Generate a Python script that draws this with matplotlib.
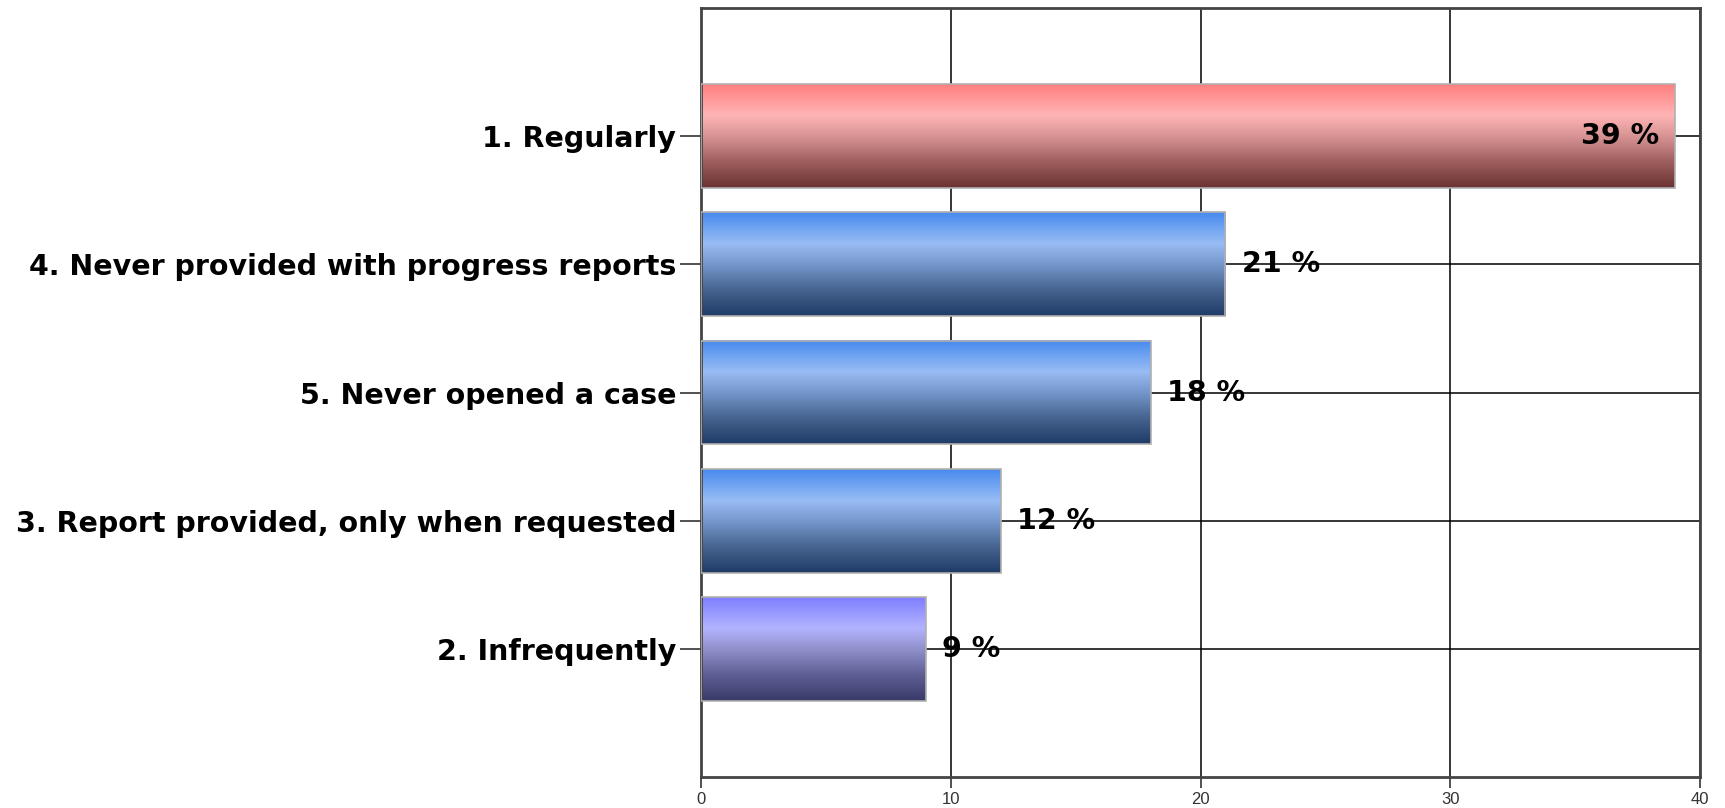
import numpy as np
import matplotlib.pyplot as plt
from matplotlib.colors import LinearSegmentedColormap

# data to plot
categories = ['1. Regularly',
              '4. Never provided with progress reports',
              '5. Never opened a case',
              '3. Report provided, only when requested',
              '2. Infrequently']
values = [39, 21, 18, 12, 9]
schemes = ['red', 'blue', 'blue', 'blue', 'purple']

# gradient stops, top of bar -> bottom
gradients = {
    'red':    ['#FF7F7F', '#FFB4B4', '#D89494', '#9E5E5E', '#6A3232'],
    'blue':   ['#468AEE', '#98BCF4', '#7597CC', '#46648F', '#1F3A66'],
    'purple': ['#7E7EFF', '#B3B3FF', '#9090CC', '#5E5E94', '#3A3A68'],
}
stops = [0.0, 0.3, 0.5, 0.75, 1.0]

plt.rcParams['font.family'] = ['DejaVu Sans']

fig = plt.figure(figsize=(17.25, 8.08), dpi=100)
ax = fig.add_axes([0.4064, 0.0384, 0.9855 - 0.4064, 0.990 - 0.0384])

n = len(categories)
pos = np.arange(n, 0, -1)
bar_h = 0.81

ax.set_xlim(0, 40)
ax.set_ylim(0, n + 1)

bars = ax.barh(pos, values, height=bar_h, color='none',
               edgecolor='#B0B0B0', lw=1.2, zorder=3)

for rect, scheme in zip(bars, schemes):
    cmap = LinearSegmentedColormap.from_list(
        scheme, list(zip(stops, gradients[scheme])))
    grad = np.linspace(0, 1, 256).reshape(-1, 1)
    x0, y0 = rect.get_x(), rect.get_y()
    w, h = rect.get_width(), rect.get_height()
    ax.imshow(grad, cmap=cmap, aspect='auto', interpolation='bilinear',
              extent=(x0, x0 + w, y0, y0 + h), origin='upper', zorder=2)

# value labels
for p, v in zip(pos, values):
    if v > 30:
        ax.text(v - 0.65, p, '%d %%' % v, ha='right', va='center',
                fontsize=20.5, fontweight='bold', color='black', zorder=5)
    else:
        ax.text(v + 0.65, p, '%d %%' % v, ha='left', va='center',
                fontsize=20.5, fontweight='bold', color='black', zorder=5)

ax.set_yticks(pos)
ax.set_yticklabels(categories, fontsize=20.5, fontweight='bold')
ax.set_xticks([0, 10, 20, 30, 40])
ax.tick_params(axis='y', length=15, width=1.2, color='#333333', pad=3)
ax.tick_params(axis='x', length=8, width=1.2, color='#333333',
               labelsize=12, labelcolor='#333333', pad=3)
for lab in ax.get_xticklabels():
    lab.set_fontfamily('Liberation Sans')

ax.grid(True, color='black', lw=1.1, zorder=1)
ax.set_axisbelow(True)
for s in ax.spines.values():
    s.set_color('#444444')
    s.set_linewidth(2)

plt.savefig('out.png', dpi=100)
